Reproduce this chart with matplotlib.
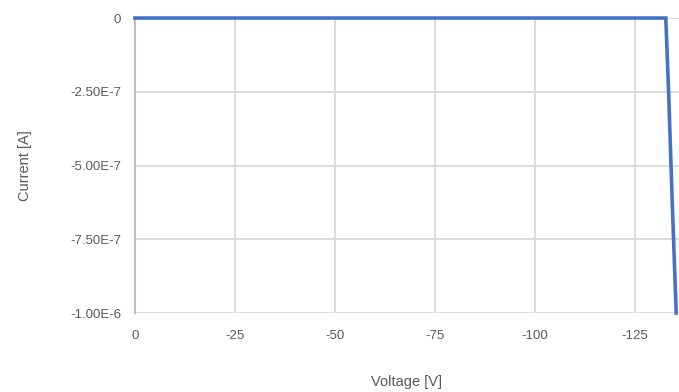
import matplotlib
matplotlib.use("Agg")
import matplotlib.pyplot as plt
import numpy as np

# I-V sweep
voltage = [0, -25, -50, -75, -100, -125, -132.7, -133.4, -134.3, -135.3]
current = [0, 0, 0, 0, 0, 0, 0, -2.5e-7, -6.2e-7, -1.0e-6]

x_ticks = [0, -25, -50, -75, -100, -125]
x_labels = ["0", "-25", "-50", "-75", "-100", "-125"]
y_ticks = [0, -2.5e-7, -5.0e-7, -7.5e-7, -1.0e-6]
y_labels = ["0", "-2.50E-7", "-5.00E-7", "-7.50E-7", "-1.00E-6"]

plt.rcParams['font.family'] = ['Liberation Sans', 'DejaVu Sans']

fig = plt.figure(figsize=(6.79, 3.92), dpi=100)
ax = fig.add_axes([0.1988, 0.2015, 0.8012, 0.7525])

ax.plot(voltage, current, color='#4472C4', lw=2.6, solid_joinstyle='miter',
        clip_on=False, zorder=3)

ax.set_xlim(0, -136)
ax.set_ylim(-1.0e-6, 0)
ax.set_xticks(x_ticks)
ax.set_xticklabels(x_labels)
ax.set_yticks(y_ticks)
ax.set_yticklabels(y_labels)

ax.grid(True, color='#D9D9D9', lw=1.3)
ax.set_axisbelow(True)
for s in ['top', 'right', 'bottom']:
    ax.spines[s].set_visible(False)
ax.spines['left'].set_color('#BFBFBF')
ax.spines['left'].set_linewidth(1.5)

ax.tick_params(length=0, colors='#595959', labelsize=9.5)
ax.tick_params(axis='x', pad=12)
ax.tick_params(axis='y', pad=10)

ax.set_xlabel('Voltage [V]', fontsize=10.5, color='#595959', labelpad=24)
ax.set_ylabel('Current [A]', fontsize=10.5, color='#595959', labelpad=27)

fig.savefig('out.png', dpi=100)
